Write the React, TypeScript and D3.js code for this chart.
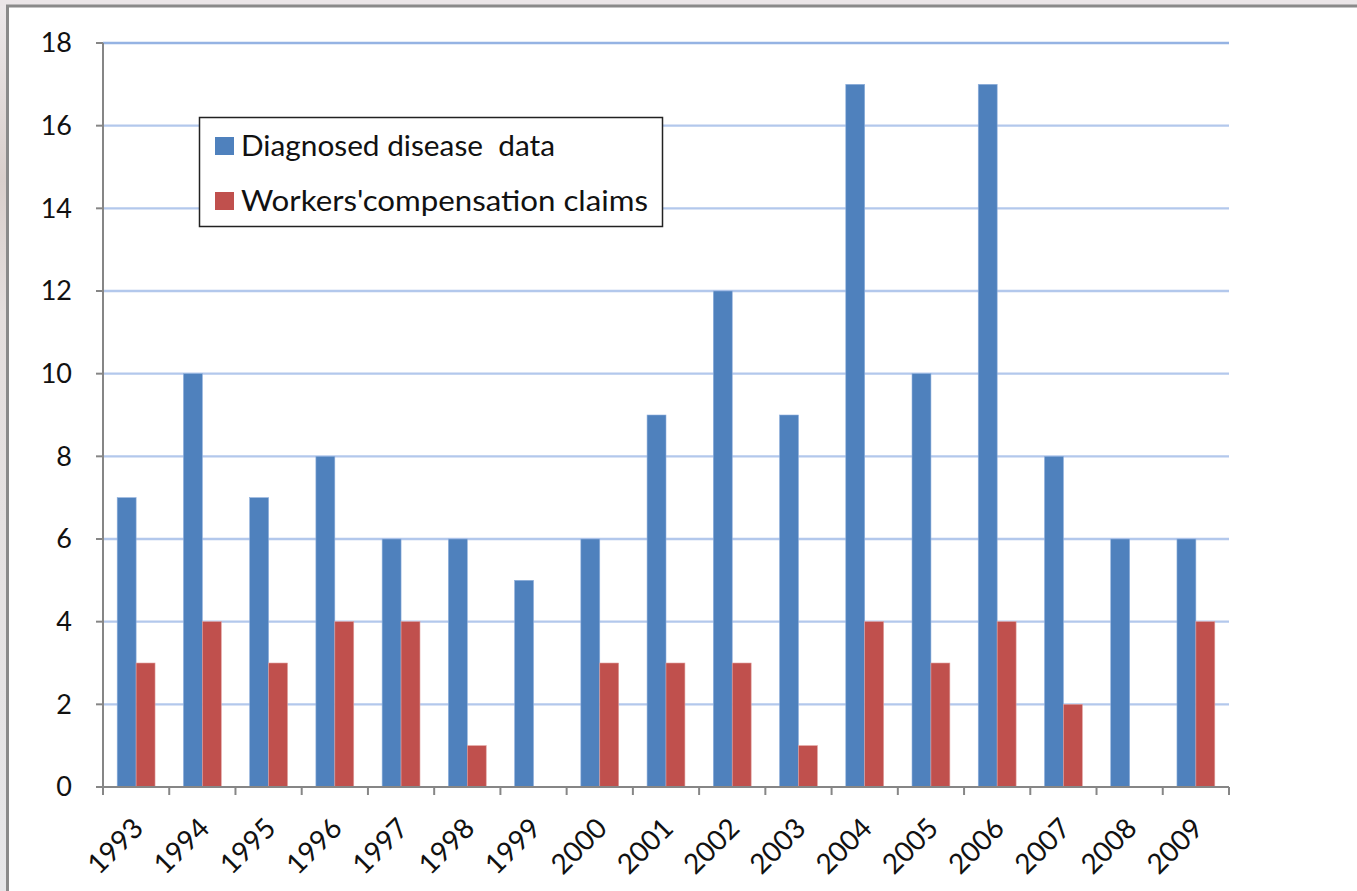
import React from "react";
import * as d3 from "d3";

const years = ["1993","1994","1995","1996","1997","1998","1999","2000","2001","2002","2003","2004","2005","2006","2007","2008","2009"];
const diagnosed = [7,10,7,8,6,6,5,6,9,12,9,17,10,17,8,6,6];
const claims = [3,4,3,4,4,1,0,3,3,3,1,4,3,4,2,0,4];
const yTicks = [0,2,4,6,8,10,12,14,16,18];
const seriesNames = ["Diagnosed disease  data", "Workers'compensation claims"];
const legendWidths = [314, 407];
const colors = ["#4f81bd", "#c0504d"];

const W = 1357, H = 891;
const left = 103, right = 1229, top = 43, bottom = 787;
const FONT = "Lato, 'Open Sans', sans-serif";

export default function App() {
  const x = d3.scaleBand<string>().domain(years).range([left, right]).paddingInner(0).paddingOuter(0);
  const y = d3.scaleLinear().domain([0, 18]).range([bottom, top]);
  const bw = x.bandwidth() / 3.5;
  const series = [diagnosed, claims];
  return (
    <div style={{ position: "fixed", left: 0, top: 0 }}>
      <svg width={W} height={H} style={{ display: "block" }}>
        <defs>
          <linearGradient id="bgL" x1="0" y1="0" x2="0" y2="1">
            <stop offset="0" stopColor="#ece8ea" />
            <stop offset="0.2" stopColor="#d9cfcc" />
            <stop offset="0.35" stopColor="#e4dedd" />
            <stop offset="1" stopColor="#e6e6e8" />
          </linearGradient>
        </defs>
        <rect x={0} y={0} width={W} height={H} fill="url(#bgL)" />
        <rect x={0} y={0} width={W} height={6} fill="#ebe6e8" />
        <rect x={7.5} y={6} width={W + 20} height={H + 20} fill="#ffffff" stroke="#8a8a8a" strokeWidth={3} />
        {/* gridlines */}
        {yTicks.filter(t => t > 0).map(t => (
          <line key={t} x1={left} x2={right} y1={y(t)} y2={y(t)} stroke={t === 18 ? "#95b3e3" : "#b3c8ec"} strokeWidth={2.4} />
        ))}
        {/* bars */}
        {series.map((s, si) => (
          <g key={si}>
            {s.map((v, i) => v > 0 ? (
              <rect key={i}
                x={(x(years[i]) as number) + bw * 0.75 + si * bw}
                y={y(v)} width={bw} height={y(0) - y(v)}
                fill={colors[si]} stroke={si === 0 ? "#8fb0dc" : "#e0a09e"} strokeWidth={0.6} />
            ) : null)}
          </g>
        ))}
        {/* axes */}
        <line x1={left} x2={left} y1={top} y2={bottom} stroke="#868686" strokeWidth={2} />
        <line x1={left} x2={right} y1={bottom} y2={bottom} stroke="#868686" strokeWidth={2} />
        {yTicks.map(t => (
          <g key={t}>
            <line x1={left - 7} x2={left} y1={y(t)} y2={y(t)} stroke="#868686" strokeWidth={2} />
            <text x={72} y={y(t)} dy="0.35em" textAnchor="end" fontFamily={FONT} fontSize={27} fill="#111">{t}</text>
          </g>
        ))}
        {years.map((yr) => (
          <line key={yr} x1={x(yr) as number} x2={x(yr) as number} y1={bottom} y2={bottom + 8} stroke="#868686" strokeWidth={2} />
        ))}
        <line x1={right} x2={right} y1={bottom} y2={bottom + 8} stroke="#868686" strokeWidth={2} />
        {years.map(yr => {
          const cx = (x(yr) as number) + x.bandwidth() / 2 + 2;
          const cy = bottom + 36;
          return (
            <text key={yr} x={cx} y={cy} textAnchor="end" fontFamily={FONT} fontSize={28} fill="#111"
              transform={`rotate(-45 ${cx} ${cy})`} dy="0.35em">{yr}</text>
          );
        })}
        {/* legend */}
        <rect x={199.5} y={117.5} width={463} height={109} fill="#ffffff" stroke="#222" strokeWidth={1.5} />
        {seriesNames.map((n, i) => (
          <g key={n}>
            <rect x={215} y={137 + i * 55} width={19} height={18} fill={colors[i]} />
            <text x={241} y={156 + i * 55} fontFamily={FONT} fontSize={28} fill="#111" style={{ whiteSpace: "pre" }}
              textLength={legendWidths[i]} lengthAdjust="spacingAndGlyphs">{n}</text>
          </g>
        ))}
      </svg>
    </div>
  );
}
